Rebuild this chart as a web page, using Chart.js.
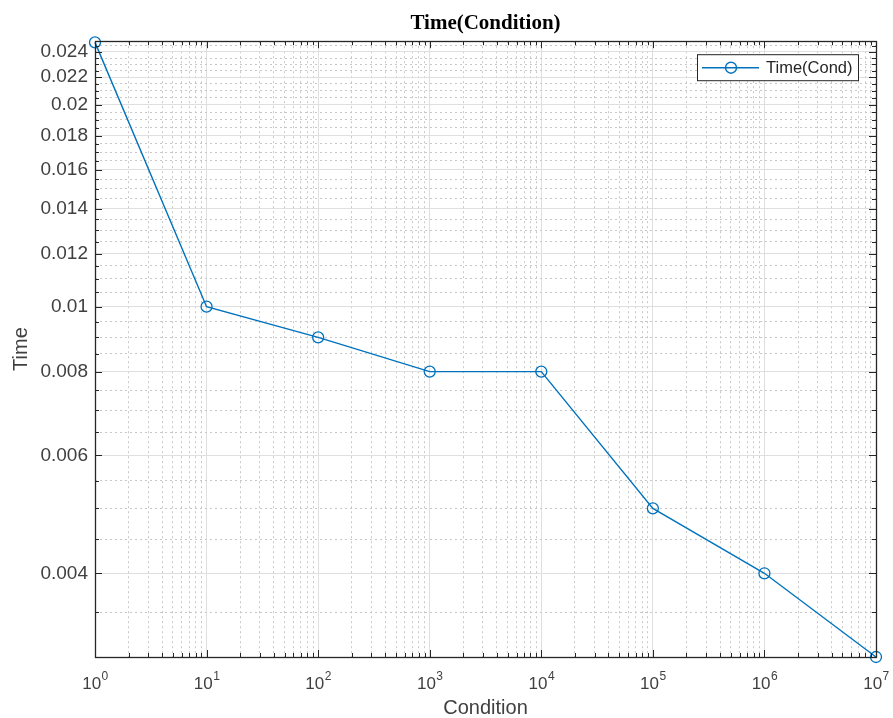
<!DOCTYPE html>
<html>
<head>
<meta charset="utf-8">
<script src="https://cdn.jsdelivr.net/npm/chart.js@4/dist/chart.umd.min.js"></script>
<style>
  html, body { margin: 0; padding: 0; background: #fff; }
  #wrap { width: 893px; height: 718px; position: relative; }
</style>
</head>
<body>
<div id="wrap"><canvas id="chart"></canvas></div>
<script>
// values
const conditions = [1, 10, 100, 1000, 10000, 100000, 1000000, 10000000];
const times = [0.0248, 0.01, 0.009, 0.008, 0.008, 0.005, 0.004, 0.003];
const yMajorTicks = [0.004, 0.006, 0.008, 0.01, 0.012, 0.014, 0.016, 0.018, 0.02, 0.022, 0.024];
const yMinorStep = 0.0005;
const xDecades = [0, 1, 2, 3, 4, 5, 6, 7];

const axisColor = '#262626';
const labelColor = '#404040';
const majorGrid = '#dfdfdf';
const minorGrid = '#c8c8c8';
const sans = '"Liberation Sans", Arial, sans-serif';

function isXMajor(v) {
  const l = Math.log10(v);
  return Math.abs(l - Math.round(l)) < 1e-9;
}
function isYMajor(v) {
  return yMajorTicks.some(t => Math.abs(t - v) < 1e-9);
}

// box + inward tick marks, like matlab
const boxPlugin = {
  id: 'box',
  afterDatasetsDraw(chart) {
    const { ctx, chartArea: a, scales } = chart;
    ctx.save();
    ctx.strokeStyle = axisColor;
    ctx.lineWidth = 1;
    ctx.beginPath();
    scales.x.ticks.forEach(t => {
      const px = Math.round(scales.x.getPixelForValue(t.value)) + 0.5;
      const len = isXMajor(t.value) ? 7 : 4;
      ctx.moveTo(px, a.bottom); ctx.lineTo(px, a.bottom - len);
      ctx.moveTo(px, a.top); ctx.lineTo(px, a.top + len);
    });
    scales.y.ticks.forEach(t => {
      const py = Math.round(scales.y.getPixelForValue(t.value)) + 0.5;
      const len = isYMajor(t.value) ? 7 : 4;
      ctx.moveTo(a.left, py); ctx.lineTo(a.left + len, py);
      ctx.moveTo(a.right, py); ctx.lineTo(a.right - len, py);
    });
    ctx.stroke();
    ctx.lineWidth = 1.3;
    ctx.strokeRect(Math.round(a.left) + 0.5, Math.round(a.top) + 0.5,
      Math.round(a.right - a.left), Math.round(a.bottom - a.top));
    ctx.restore();
  },
  // x tick labels as 10 with a raised exponent
  afterDraw(chart) {
    const { ctx, chartArea: a, scales } = chart;
    ctx.save();
    ctx.fillStyle = labelColor;
    ctx.textBaseline = 'alphabetic';
    scales.x.ticks.forEach(t => {
      if (!isXMajor(t.value)) return;
      const px = scales.x.getPixelForValue(t.value);
      const exp = String(Math.round(Math.log10(t.value)));
      ctx.font = '17px ' + sans;
      const wb = ctx.measureText('10').width;
      ctx.font = '12px ' + sans;
      const we = ctx.measureText(exp).width;
      const x0 = px - (wb + we) / 2;
      ctx.font = '17px ' + sans;
      ctx.fillText('10', x0, a.bottom + 32);
      ctx.font = '12px ' + sans;
      ctx.fillText(exp, x0 + wb + 0.5, a.bottom + 23);
    });
    ctx.restore();
  }
};

// legend box inside the axes, top right
const legendPlugin = {
  id: 'boxLegend',
  afterDraw(chart) {
    const { ctx, chartArea: a } = chart;
    const ds = chart.data.datasets[0];
    const w = 161, h = 26;
    const x = a.right - 18 - w, y = a.top + 13;
    ctx.save();
    ctx.fillStyle = '#fff';
    ctx.fillRect(x, y, w, h);
    ctx.strokeStyle = axisColor;
    ctx.lineWidth = 1;
    ctx.strokeRect(x + 0.5, y + 0.5, w, h);
    const my = y + h / 2 + 0.5;
    ctx.strokeStyle = ds.borderColor;
    ctx.lineWidth = 1.4;
    ctx.beginPath();
    ctx.moveTo(x + 5, my); ctx.lineTo(x + 62, my);
    ctx.stroke();
    ctx.beginPath();
    ctx.arc(x + 34, my, 5.5, 0, Math.PI * 2);
    ctx.stroke();
    ctx.fillStyle = axisColor;
    ctx.font = '16.5px ' + sans;
    ctx.textBaseline = 'middle';
    ctx.fillText(ds.label, x + 69, my + 1);
    ctx.restore();
  }
};

new Chart(document.getElementById('chart'), {
  type: 'line',
  data: {
    datasets: [{
      label: 'Time(Cond)',
      data: conditions.map((c, i) => ({ x: c, y: times[i] })),
      borderColor: '#0072BD',
      borderWidth: 1.4,
      pointStyle: 'circle',
      pointRadius: 5.5,
      pointBackgroundColor: 'rgba(0,0,0,0)',
      pointBorderColor: '#0072BD',
      pointBorderWidth: 1.3,
      tension: 0,
      clip: false
    }]
  },
  plugins: [boxPlugin, legendPlugin],
  options: {
    responsive: true,
    maintainAspectRatio: false,
    animation: false,
    layout: { padding: { left: 0, right: 17, top: 0, bottom: 0 } },
    plugins: {
      legend: { display: false },
      tooltip: { enabled: false },
      title: {
        display: true,
        text: 'Time(Condition)',
        fullSize: false,
        color: '#000',
        font: { family: '"Liberation Serif", "Times New Roman", serif', size: 21, weight: 'bold' },
        padding: { top: 11, bottom: 5 }
      }
    },
    scales: {
      x: {
        type: 'logarithmic',
        min: 1,
        max: 10000000,
        afterBuildTicks(scale) {
          const ticks = [];
          xDecades.forEach(k => {
            for (let m = 1; m <= 9; m++) {
              if (k === 7 && m > 1) break;
              ticks.push({ value: m * Math.pow(10, k) });
            }
          });
          scale.ticks = ticks;
        },
        afterFit(scale) {
          scale.height = 61;
          scale.paddingLeft = 0;
          scale.paddingRight = 0;
        },
        ticks: {
          autoSkip: false,
          maxRotation: 0,
          minRotation: 0,
          padding: 12,
          color: 'rgba(0,0,0,0)',
          font: { family: sans, size: 16 },
          callback(v) {
            return isXMajor(v) ? '10' : '';
          }
        },
        grid: {
          drawTicks: false,
          color: ctx => ctx.tick && isXMajor(ctx.tick.value) ? majorGrid : minorGrid
        },
        border: {
          display: false,
          dash: ctx => ctx.tick && !isXMajor(ctx.tick.value) ? [2, 3] : []
        },
        title: {
          display: true,
          text: 'Condition',
          color: labelColor,
          font: { family: sans, size: 20 },
          padding: { top: 0, bottom: -2 }
        }
      },
      y: {
        type: 'logarithmic',
        min: 0.003,
        max: 0.0249,
        afterBuildTicks(scale) {
          const ticks = [];
          for (let i = 0; ; i++) {
            const v = Math.round((0.0035 + i * yMinorStep) * 1e5) / 1e5;
            if (v > 0.0249) break;
            ticks.push({ value: v });
          }
          scale.ticks = ticks;
        },
        afterFit(scale) { scale.width = 95; },
        ticks: {
          autoSkip: false,
          padding: 7,
          color: labelColor,
          font: { family: sans, size: 19 },
          callback(v) {
            return isYMajor(v) ? String(+v.toFixed(4)) : '';
          }
        },
        grid: {
          drawTicks: false,
          color: ctx => ctx.tick && isYMajor(ctx.tick.value) ? majorGrid : minorGrid
        },
        border: {
          display: false,
          dash: ctx => ctx.tick && !isYMajor(ctx.tick.value) ? [2, 3] : []
        },
        title: {
          display: true,
          text: 'Time',
          color: labelColor,
          font: { family: sans, size: 20 },
          padding: { top: 9, bottom: 0 }
        }
      }
    }
  }
});
</script>
</body>
</html>
